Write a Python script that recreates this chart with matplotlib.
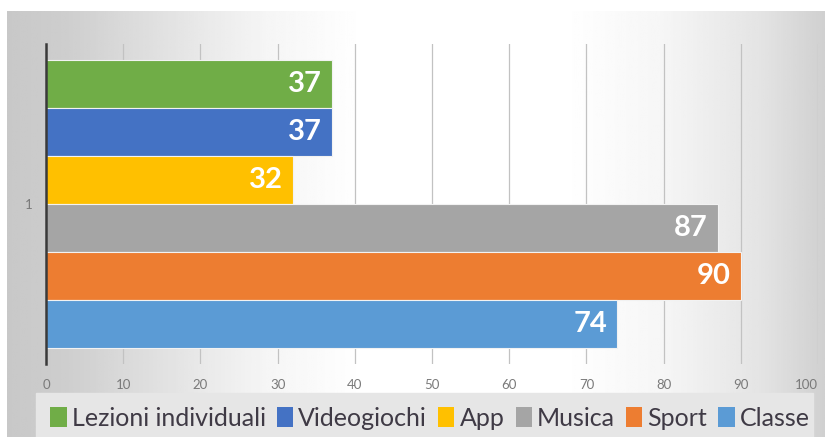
import numpy as np
import matplotlib
matplotlib.use("Agg")
import matplotlib.pyplot as plt
from matplotlib.patches import Rectangle

plt.rcParams['font.family'] = ['Lato', 'DejaVu Sans']

category = "1"
series = ["Lezioni individuali", "Videogiochi", "App", "Musica", "Sport", "Classe"]
values = [37, 37, 32, 87, 90, 74]
colors = ["#70ad47", "#4472c4", "#ffc000", "#a5a5a5", "#ed7d31", "#5b9bd5"]
xticks = list(range(0, 101, 10))

W, H = 825, 437
fig = plt.figure(figsize=(W / 100, H / 100), dpi=100)

# soft grey-white-grey backdrop
bg = fig.add_axes([0, 0, 1, 1], zorder=-2)
bg.set_xlim(0, W)
bg.set_ylim(0, H)
bg.axis("off")
xs = np.linspace(0, W, 400)
shade = np.interp(xs, [0, 60, 160, 260, 360, 560, 660, 760, 825],
                  [200, 206, 226, 245, 255, 255, 246, 228, 208]) / 255.0
grad = np.tile(shade, (2, 1))
bg.imshow(grad, cmap="gray", vmin=0, vmax=1, aspect="auto",
          extent=[7, W, 0, H - 11], origin="lower")
bg.add_patch(Rectangle((36, 0), 777, 44, color="#e6e6e6", zorder=3))

ax = fig.add_axes([46 / W, (H - 364) / H, 772 / W, 320 / H])
ax.patch.set_alpha(0)

n = len(series)
ypos = np.arange(n)[::-1]
bars = []
for y, v, c, name in zip(ypos, values, colors, series):
    b = ax.barh(y, v, height=1.0, color=c, edgecolor="#f2f2f2",
                linewidth=0.8, label=name, zorder=3)
    bars.append(b)
    ax.annotate(str(v), xy=(v, y), xytext=(-7, 0), textcoords="offset points",
                ha="right", va="center", color="white", fontsize=21,
                fontweight="bold", zorder=4)

ax.set_xlim(0, 100)
ax.set_ylim(-0.5 - 0.333, n - 0.5 + 0.333)
ax.set_xticks(xticks)
ax.set_xticklabels([str(t) for t in xticks])
ax.set_yticks([(n - 1) / 2])
ax.set_yticklabels([category])
ax.tick_params(axis="x", length=0, pad=11, labelsize=9.5, labelcolor="#7a7a7a")
ax.tick_params(axis="y", length=0, pad=10, labelsize=9.5, labelcolor="#7a7a7a")
# last label sits at the right edge, keep it inside the canvas
ax.get_xticklabels()[-1].set_horizontalalignment("right")
ax.get_xticklabels()[-1].set_x(100.9)
ax.grid(axis="x", color="#c2c2c2", linewidth=0.9, zorder=0)
ax.set_axisbelow(True)
for s in ["top", "right", "bottom"]:
    ax.spines[s].set_visible(False)
ax.spines["left"].set_color("#3a3a3a")
ax.spines["left"].set_linewidth(1.8)
ax.spines["left"].set_zorder(5)

leg = fig.legend(handles=[b[0] for b in bars], labels=series, loc="center",
                 bbox_to_anchor=(430 / W, 19 / H), ncol=n, frameon=False,
                 fontsize=18, handlelength=0.65, handleheight=0.85,
                 handletextpad=0.2, columnspacing=0.45, borderaxespad=0)
for t in leg.get_texts():
    t.set_color("#3f3a45")
for h in leg.legend_handles:
    h.set_edgecolor("none")

fig.savefig("out.png", dpi=100)
